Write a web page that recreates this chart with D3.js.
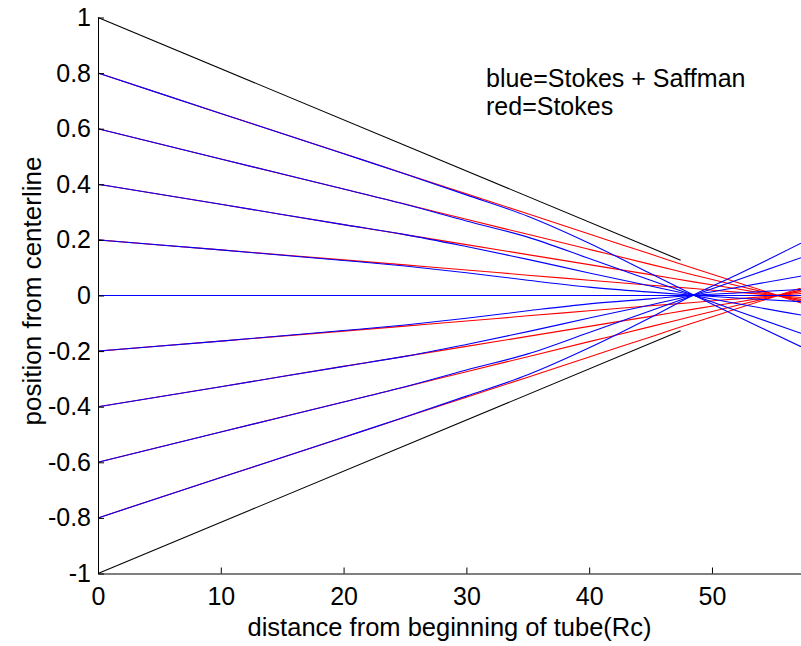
<!DOCTYPE html>
<html>
<head>
<meta charset="utf-8">
<script src="https://cdn.jsdelivr.net/npm/d3@7"></script>
<style>
  html, body { margin: 0; padding: 0; background: #fff; }
  svg { display: block; }
  text { font-family: "Liberation Sans", Arial, sans-serif; fill: #000; }
</style>
</head>
<body>
<svg id="chart" width="801" height="646"></svg>
<script>
// ---------------- data ----------------
const xTicks = [0, 10, 20, 30, 40, 50];
const yTicks = [-1, -0.8, -0.6, -0.4, -0.2, 0, 0.2, 0.4, 0.6, 0.8, 1];
const yTickLabels = ["-1", "-0.8", "-0.6", "-0.4", "-0.2", "0", "0.2", "0.4", "0.6", "0.8", "1"];

// tube walls (black)
const wallX = [0, 47.45];
const wallTop = [1, 0.127];
const wallBottom = [-1, -0.127];

// sample positions along the tube
const trackX = [0, 10, 20, 25, 30, 35, 40, 45, 48.5, 52, 57.25];

// red = Stokes
const red08  = [0.8, 0.655, 0.511, 0.438, 0.366, 0.294, 0.221, 0.149, 0.098, 0.048, -0.027];
const red06  = [0.6, 0.491, 0.383, 0.329, 0.274, 0.220, 0.166, 0.112, 0.074, 0.036, -0.020];
const red04  = [0.4, 0.328, 0.255, 0.219, 0.183, 0.147, 0.111, 0.075, 0.049, 0.024, -0.014];
const red02  = [0.2, 0.164, 0.128, 0.110, 0.092, 0.073, 0.055, 0.037, 0.025, 0.012, -0.007];
const redM02 = [-0.2, -0.164, -0.128, -0.110, -0.092, -0.073, -0.055, -0.037, -0.025, -0.012, 0.007];
const redM04 = [-0.4, -0.328, -0.255, -0.219, -0.183, -0.147, -0.111, -0.075, -0.049, -0.024, 0.014];
const redM06 = [-0.6, -0.491, -0.383, -0.329, -0.274, -0.220, -0.166, -0.112, -0.074, -0.036, 0.020];
const redM08 = [-0.8, -0.655, -0.511, -0.438, -0.366, -0.294, -0.221, -0.149, -0.098, -0.048, 0.027];

// blue = Stokes + Saffman
const blue08  = [0.8, 0.655, 0.510, 0.437, 0.362, 0.285, 0.188, 0.079, 0.002, -0.074, -0.184];
const blue06  = [0.6, 0.491, 0.383, 0.328, 0.268, 0.210, 0.133, 0.055, 0.001, -0.055, -0.136];
const blue04  = [0.4, 0.328, 0.255, 0.219, 0.176, 0.130, 0.081, 0.034, 0.001, -0.029, -0.070];
const blue02  = [0.2, 0.164, 0.126, 0.106, 0.082, 0.055, 0.030, 0.012, 0.001, -0.009, -0.022];
const blue00  = [0, 0, 0, 0, 0, 0, 0, 0, 0, 0, 0];
const blueM02 = [-0.2, -0.164, -0.126, -0.106, -0.082, -0.055, -0.030, -0.012, 0.001, 0.009, 0.022];
const blueM04 = [-0.4, -0.328, -0.255, -0.219, -0.176, -0.130, -0.081, -0.034, 0.001, 0.029, 0.070];
const blueM06 = [-0.6, -0.491, -0.383, -0.328, -0.268, -0.210, -0.133, -0.055, 0.001, 0.055, 0.136];
const blueM08 = [-0.8, -0.655, -0.510, -0.437, -0.362, -0.285, -0.188, -0.079, 0.002, 0.074, 0.188];

const redSeries = [red08, red06, red04, red02, redM02, redM04, redM06, redM08];
const blueSeries = [blue08, blue06, blue04, blue02, blue00, blueM02, blueM04, blueM06, blueM08];

const legendLines = ["blue=Stokes + Saffman", "red=Stokes"];
const xTitle = "distance from beginning of tube(Rc)";
const yTitle = "position from centerline";

// ---------------- drawing ----------------
const svg = d3.select("#chart");
const mLeft = 98, mRight = 801, mTop = 17.5, mBottom = 573.5;

const x = d3.scaleLinear().domain([0, 57.25]).range([mLeft, mRight]);
const y = d3.scaleLinear().domain([-1, 1]).range([mBottom, mTop]);

const line = d3.line().curve(d3.curveMonotoneX).x(d => x(d[0])).y(d => y(d[1]));

const plot = svg.append("g");

function drawSeries(xs, ys, color) {
  plot.append("path")
    .datum(xs.map((v, i) => [v, ys[i]]))
    .attr("d", line)
    .attr("fill", "none")
    .attr("stroke", color)
    .attr("stroke-width", 1.1);
}

drawSeries(wallX, wallTop, "#000");
drawSeries(wallX, wallBottom, "#000");
redSeries.forEach(s => drawSeries(trackX, s, "#ff0000"));
blueSeries.forEach(s => drawSeries(trackX, s, "#0000ff"));

// axes (MATLAB style: inward ticks, no box)
const xAxis = d3.axisBottom(x).tickValues(xTicks).tickSizeInner(-6).tickSizeOuter(0).tickPadding(14);
const gx = svg.append("g").attr("transform", `translate(0,${mBottom})`).call(xAxis);
gx.select(".domain").attr("stroke", "#000").attr("stroke-width", 1);
gx.selectAll(".tick line").attr("stroke", "#000");
gx.selectAll(".tick text")
  .attr("font-size", 25)
  .attr("font-family", "Liberation Sans, Arial, sans-serif")
  .attr("fill", "#000");

const yAxis = d3.axisLeft(y).tickValues(yTicks)
  .tickFormat((d, i) => yTickLabels[i])
  .tickSizeInner(-6).tickSizeOuter(0).tickPadding(14);
const gy = svg.append("g").attr("transform", `translate(${mLeft},0)`).call(yAxis);
gy.select(".domain").attr("stroke", "#000").attr("stroke-width", 1);
gy.selectAll(".tick line").attr("stroke", "#000");
gy.selectAll(".tick text")
  .attr("font-size", 25)
  .attr("font-family", "Liberation Sans, Arial, sans-serif")
  .attr("fill", "#000")
  .attr("x", -7);

// axis titles
svg.append("text")
  .attr("x", (mLeft + mRight) / 2)
  .attr("y", 636)
  .attr("text-anchor", "middle")
  .attr("font-size", 25.5)
  .text(xTitle);

svg.append("text")
  .attr("transform", `translate(41,291) rotate(-90)`)
  .attr("text-anchor", "middle")
  .attr("font-size", 26)
  .text(yTitle);

// legend text
legendLines.forEach((t, i) => {
  svg.append("text")
    .attr("x", 486)
    .attr("y", 87 + i * 28)
    .attr("font-size", 25)
    .text(t);
});
</script>
</body>
</html>
